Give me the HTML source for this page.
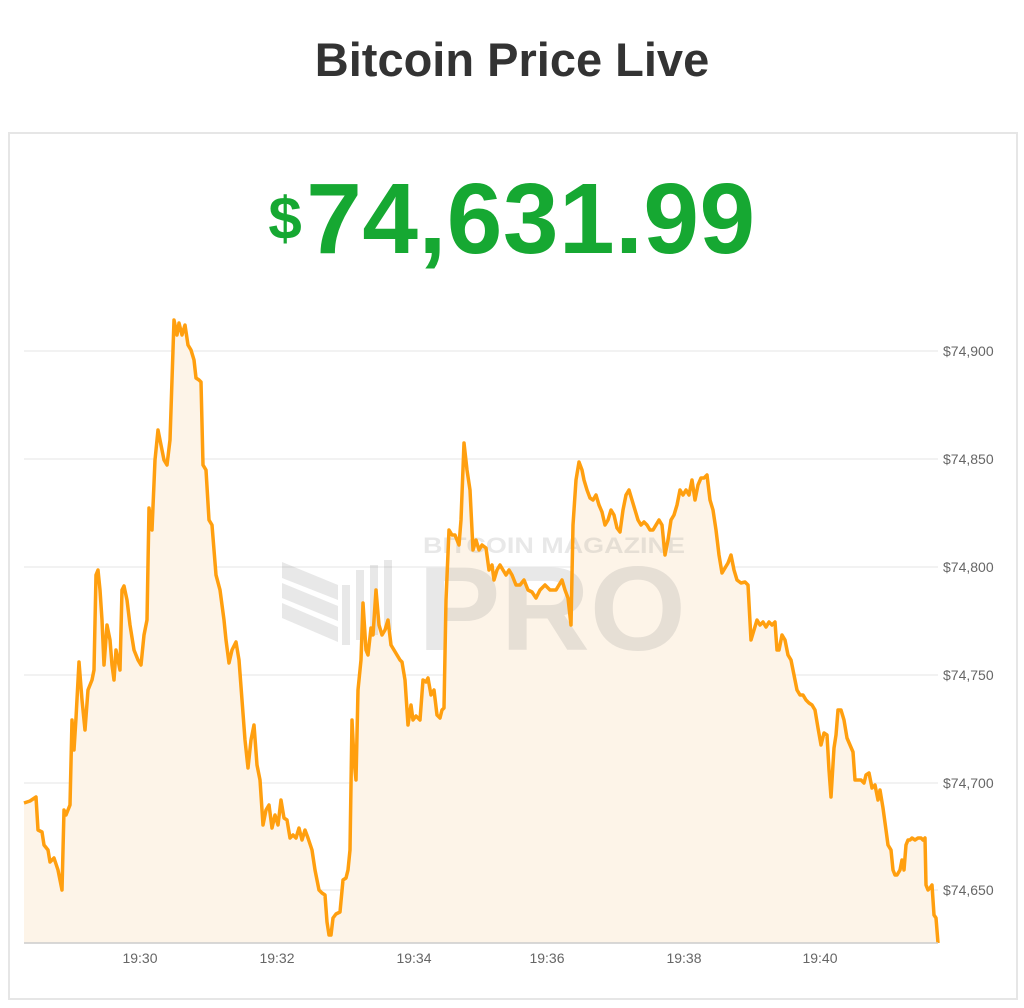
<!DOCTYPE html>
<html><head><meta charset="utf-8"><style>
body{margin:0;width:1024px;height:1008px;background:#fff;font-family:"Liberation Sans",sans-serif;position:relative;overflow:hidden}
.t{position:absolute;left:0;width:1024px;top:32px;text-align:center;font-size:47px;font-weight:bold;color:#333}
.card{position:absolute;left:8px;top:132px;width:1006px;height:864px;border:2px solid #e6e6e6}
.p{position:absolute;left:0;width:1024px;top:162px;text-align:center;color:#16a832;font-weight:bold;font-size:100px;letter-spacing:0.5px}
.p span{font-size:60px;vertical-align:14px;margin-right:4px}
</style></head><body>
<div class="t">Bitcoin Price Live</div>
<div class="card"></div>
<div class="p"><span>$</span>74,631.99</div>
<svg width="1024" height="1008" style="position:absolute;left:0;top:0">
<g stroke="#eee" stroke-width="1.5">
<line x1="24" x2="938" y1="351" y2="351"/><line x1="24" x2="938" y1="459" y2="459"/><line x1="24" x2="938" y1="567" y2="567"/><line x1="24" x2="938" y1="675" y2="675"/><line x1="24" x2="938" y1="783" y2="783"/><line x1="24" x2="938" y1="890" y2="890"/>
</g>
<g font-family="Liberation Sans" font-size="14" fill="#666">
<text x="943" y="356">$74,900</text><text x="943" y="464">$74,850</text><text x="943" y="572">$74,800</text><text x="943" y="680">$74,750</text><text x="943" y="788">$74,700</text><text x="943" y="895">$74,650</text>
<g text-anchor="middle"><text x="140" y="963">19:30</text><text x="277" y="963">19:32</text><text x="414" y="963">19:34</text><text x="547" y="963">19:36</text><text x="684" y="963">19:38</text><text x="820" y="963">19:40</text></g>
</g>
<polygon fill="#fdf4e8" points="24,943 24,803 30,801 36,797 38,830 42,832 44,845 48,850 50,862 54,858 58,870 62,890 64,810 66,815 70,805 72,720 74,750 76,718 79,662 82,700 85,730 88,690 92,680 94,670 96,575 98,570 100,590 102,620 104,665 107,625 110,640 112,665 114,680 116,650 118,660 120,670 122,590 124,586 127,600 130,625 134,650 138,660 141,665 144,635 147,620 149,508 152,530 155,460 158,430 161,445 164,460 167,465 170,440 172,380 174,320 177,335 179,323 182,335 185,325 188,345 191,350 194,360 196,378 199,380 201,382 203,465 206,470 209,520 212,525 216,575 220,590 224,620 226,640 229,663 232,650 236,642 239,660 242,700 245,740 248,768 251,740 254,725 257,765 260,780 263,825 266,810 269,805 272,828 275,815 278,825 281,800 284,818 287,820 290,838 293,835 296,838 299,828 302,840 305,830 308,838 312,850 315,870 317,880 319,890 322,893 325,895 327,922 329,935 331,935 333,918 336,914 340,912 343,880 346,878 348,870 350,850 352,720 354,760 356,780 358,690 361,660 363,603 366,650 368,655 371,628 373,635 376,590 379,625 382,635 385,630 388,620 391,645 394,650 397,655 400,660 402,662 405,680 408,725 411,705 413,720 416,716 420,720 423,680 426,682 428,678 431,695 434,690 437,715 440,718 442,710 444,708 446,600 449,530 452,535 455,535 457,540 459,545 461,520 464,443 467,470 470,490 473,550 476,540 479,550 482,545 486,548 489,570 492,565 494,580 497,570 500,565 503,570 506,575 509,570 512,575 516,585 520,585 524,580 528,590 532,592 536,598 540,590 545,585 550,590 556,590 562,580 565,590 568,598 571,625 573,525 576,480 579,462 582,470 584,480 587,490 590,498 593,500 596,495 599,505 602,512 605,525 608,520 611,510 614,515 617,528 620,532 623,510 626,495 629,490 632,500 635,510 638,520 641,525 644,522 647,525 650,530 653,530 656,525 659,520 662,525 665,555 668,540 671,520 674,515 677,505 680,490 683,495 686,490 689,495 692,480 695,500 698,485 701,478 704,478 707,475 710,500 713,510 716,530 719,555 722,573 725,568 728,563 731,555 734,570 737,580 741,583 745,582 748,585 751,640 754,630 757,620 760,625 763,622 766,627 769,622 772,625 775,622 777,650 779,650 782,635 785,640 788,655 791,660 794,675 797,690 800,695 803,695 806,700 809,703 812,705 815,710 818,728 821,745 824,733 827,735 829,770 831,797 834,748 836,735 838,710 841,710 844,720 847,738 850,745 853,752 855,780 858,780 861,780 864,783 866,775 869,773 872,788 875,785 878,800 880,790 883,808 886,830 888,845 891,850 893,870 895,875 897,875 900,870 902,860 904,870 906,845 908,840 910,840 912,838 915,840 918,838 921,838 923,840 925,838 926,885 928,890 930,888 932,885 934,915 936,918 938,943"/>
<g fill="rgba(140,140,140,0.2)">
<polygon points="282,562 338,585 338,600 282,578"/><polygon points="282,583 338,606 338,621 282,598"/><polygon points="282,603 338,627 338,642 282,618"/>
<rect x="342" y="585" width="8" height="60"/><rect x="356" y="570" width="8" height="70"/><rect x="370" y="565" width="8" height="70"/><rect x="384" y="560" width="8" height="70"/>
<text x="423" y="553" font-family="Liberation Sans" font-weight="bold" font-size="22" textLength="262" lengthAdjust="spacingAndGlyphs">BITCOIN MAGAZINE</text>
<text x="418" y="650" font-family="Liberation Sans" font-weight="bold" font-size="120" textLength="268" lengthAdjust="spacingAndGlyphs">PRO</text>
</g>
<polyline fill="none" stroke="#ff9f0f" stroke-width="3.5" stroke-linejoin="round" points="24,803 30,801 36,797 38,830 42,832 44,845 48,850 50,862 54,858 58,870 62,890 64,810 66,815 70,805 72,720 74,750 76,718 79,662 82,700 85,730 88,690 92,680 94,670 96,575 98,570 100,590 102,620 104,665 107,625 110,640 112,665 114,680 116,650 118,660 120,670 122,590 124,586 127,600 130,625 134,650 138,660 141,665 144,635 147,620 149,508 152,530 155,460 158,430 161,445 164,460 167,465 170,440 172,380 174,320 177,335 179,323 182,335 185,325 188,345 191,350 194,360 196,378 199,380 201,382 203,465 206,470 209,520 212,525 216,575 220,590 224,620 226,640 229,663 232,650 236,642 239,660 242,700 245,740 248,768 251,740 254,725 257,765 260,780 263,825 266,810 269,805 272,828 275,815 278,825 281,800 284,818 287,820 290,838 293,835 296,838 299,828 302,840 305,830 308,838 312,850 315,870 317,880 319,890 322,893 325,895 327,922 329,935 331,935 333,918 336,914 340,912 343,880 346,878 348,870 350,850 352,720 354,760 356,780 358,690 361,660 363,603 366,650 368,655 371,628 373,635 376,590 379,625 382,635 385,630 388,620 391,645 394,650 397,655 400,660 402,662 405,680 408,725 411,705 413,720 416,716 420,720 423,680 426,682 428,678 431,695 434,690 437,715 440,718 442,710 444,708 446,600 449,530 452,535 455,535 457,540 459,545 461,520 464,443 467,470 470,490 473,550 476,540 479,550 482,545 486,548 489,570 492,565 494,580 497,570 500,565 503,570 506,575 509,570 512,575 516,585 520,585 524,580 528,590 532,592 536,598 540,590 545,585 550,590 556,590 562,580 565,590 568,598 571,625 573,525 576,480 579,462 582,470 584,480 587,490 590,498 593,500 596,495 599,505 602,512 605,525 608,520 611,510 614,515 617,528 620,532 623,510 626,495 629,490 632,500 635,510 638,520 641,525 644,522 647,525 650,530 653,530 656,525 659,520 662,525 665,555 668,540 671,520 674,515 677,505 680,490 683,495 686,490 689,495 692,480 695,500 698,485 701,478 704,478 707,475 710,500 713,510 716,530 719,555 722,573 725,568 728,563 731,555 734,570 737,580 741,583 745,582 748,585 751,640 754,630 757,620 760,625 763,622 766,627 769,622 772,625 775,622 777,650 779,650 782,635 785,640 788,655 791,660 794,675 797,690 800,695 803,695 806,700 809,703 812,705 815,710 818,728 821,745 824,733 827,735 829,770 831,797 834,748 836,735 838,710 841,710 844,720 847,738 850,745 853,752 855,780 858,780 861,780 864,783 866,775 869,773 872,788 875,785 878,800 880,790 883,808 886,830 888,845 891,850 893,870 895,875 897,875 900,870 902,860 904,870 906,845 908,840 910,840 912,838 915,840 918,838 921,838 923,840 925,838 926,885 928,890 930,888 932,885 934,915 936,918 938,943"/>
<line x1="24" x2="938" y1="943" y2="943" stroke="#ccc" stroke-width="1.5"/>
</svg>
</body></html>
